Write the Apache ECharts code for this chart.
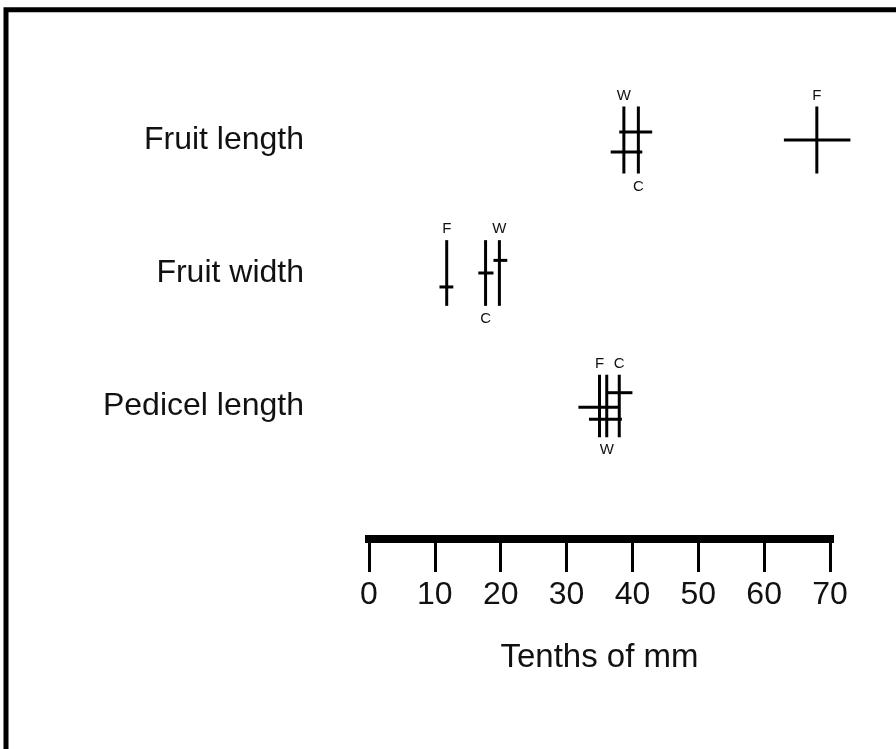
<!DOCTYPE html>
<html>
<head>
<meta charset="utf-8">
<script src="https://cdn.jsdelivr.net/npm/echarts@6/dist/echarts.min.js"></script>
<style>
  html, body { margin: 0; padding: 0; background: #fff; }
  #chart { width: 896px; height: 749px; }
</style>
</head>
<body>
<div id="chart"></div>
<script>
// traits (rows, top to bottom)
var traits = ['Fruit length', 'Fruit width', 'Pedicel length'];

// populations in each row
var pops = [
    ['F', 'C', 'W'],
    ['F', 'C', 'W'],
    ['F', 'W', 'C']
];

// mean (vertical line), tenths of mm
var means = [
    [68.0, 40.9, 38.7],
    [11.8, 17.7, 19.8],
    [35.0, 36.1, 38.0]
];

// horizontal bar extent, tenths of mm
var lows = [
    [63.0, 38.0, 36.7],
    [10.7, 16.6, 18.9],
    [31.8, 33.4, 36.1]
];
var highs = [
    [73.1, 43.0, 41.5],
    [12.8, 18.9, 21.0],
    [38.1, 38.4, 40.0]
];

// height of the horizontal bar inside its row (row units, + is down)
var barLevels = [
    [0.0, -0.06, 0.09],
    [0.105, 0.0, -0.095],
    [0.01, 0.10, -0.10]
];

// half length of vertical lines per row (row units)
var spans = [0.252, 0.247, 0.235];

// letter above (1) or below (-1) the vertical line
var labelSides = [
    [1, -1, 1],
    [1, -1, 1],
    [1, -1, 1]
];

var xTicks = [0, 10, 20, 30, 40, 50, 60, 70];

var font = 'Liberation Sans, Arial, sans-serif';

// build the series data
var data = [];
var letters = [];
for (var r = 0; r < traits.length; r++) {
    for (var p = 0; p < pops[r].length; p++) {
        data.push([r, means[r][p], lows[r][p], highs[r][p], barLevels[r][p], spans[r], labelSides[r][p]]);
        letters.push(pops[r][p]);
    }
}

function renderCross(params, api) {
    var row = api.value(0);
    var mean = api.value(1);
    var lvl = api.value(4);
    var span = api.value(5);
    var side = api.value(6);

    var top = api.coord([mean, row - span]);
    var bottom = api.coord([mean, row + span]);
    var left = api.coord([api.value(2), row + lvl]);
    var right = api.coord([api.value(3), row + lvl]);

    var lineStyle = { stroke: '#000', lineWidth: 3 };
    var ty = side > 0 ? top[1] - 11 : bottom[1] + 13;

    return {
        type: 'group',
        children: [
            { type: 'line', shape: { x1: top[0], y1: top[1], x2: bottom[0], y2: bottom[1] }, style: lineStyle },
            { type: 'line', shape: { x1: left[0], y1: left[1], x2: right[0], y2: right[1] }, style: lineStyle },
            {
                type: 'text',
                style: {
                    x: top[0], y: ty,
                    text: letters[params.dataIndex],
                    font: '15px ' + font,
                    fill: '#111',
                    align: 'center',
                    verticalAlign: 'middle'
                }
            }
        ]
    };
}

var myChart = echarts.init(document.getElementById('chart'), null, { renderer: 'canvas' });

var option = {
    backgroundColor: '#fff',
    animation: false,
    textStyle: { fontFamily: font },
    graphic: [{
        type: 'rect',
        shape: { x: 6, y: 9.8, width: 1000, height: 1000 },
        style: { fill: 'none', stroke: '#000', lineWidth: 5 },
        silent: true
    }],
    grid: { left: 369, right: 66, top: 73.5, bottom: 210 },
    xAxis: {
        type: 'value',
        min: 0,
        max: 70,
        interval: 10,
        position: 'bottom',
        name: 'Tenths of mm',
        nameLocation: 'middle',
        nameGap: 102,
        nameTextStyle: { fontSize: 33, color: '#111', fontFamily: font },
        axisLine: { show: true, onZero: false, lineStyle: { color: '#000', width: 8, cap: 'square' } },
        axisTick: { show: true, inside: false, length: 33, lineStyle: { color: '#000', width: 3 }, customValues: xTicks },
        axisLabel: { fontSize: 32, color: '#111', margin: 40, fontFamily: font, customValues: xTicks },
        splitLine: { show: false }
    },
    yAxis: {
        type: 'value',
        min: -0.5,
        max: 3,
        inverse: true,
        axisLine: { show: false },
        axisTick: { show: false },
        splitLine: { show: false },
        axisLabel: {
            show: true,
            customValues: [0, 1, 2],
            formatter: function (v) { return traits[Math.round(v)]; },
            fontSize: 32,
            color: '#111',
            margin: 65,
            fontFamily: font
        }
    },
    series: [{
        type: 'custom',
        renderItem: renderCross,
        clip: false,
        encode: { x: [1, 2, 3], y: 0 },
        data: data
    }]
};

myChart.setOption(option);
</script>
</body>
</html>
